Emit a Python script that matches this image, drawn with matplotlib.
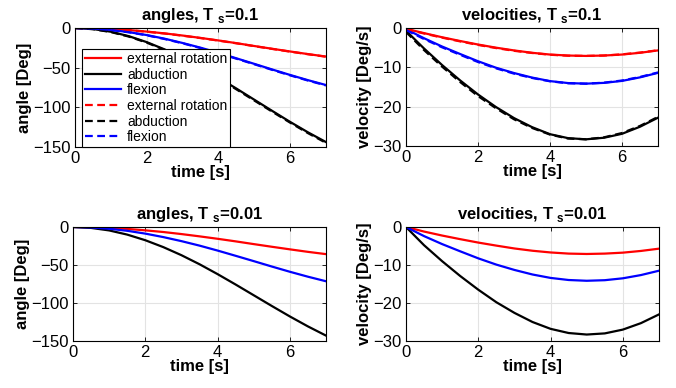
import numpy as np
import matplotlib
matplotlib.use('Agg')
import matplotlib.pyplot as plt

plt.rcParams['font.family'] = ['Liberation Sans', 'DejaVu Sans']
plt.rcParams['mathtext.fontset'] = 'custom'
plt.rcParams['mathtext.bf'] = 'Liberation Sans:bold'
plt.rcParams['mathtext.rm'] = 'Liberation Sans'

# time samples [s]
t = [0, 0.5, 1, 1.5, 2, 2.5, 3, 3.5, 4, 4.5, 5, 5.5, 6, 6.5, 7]

# Ts = 0.01 (smooth) curves
ang_ext = [0, -0.3, -1.1, -2.5, -4.4, -6.6, -9.3, -12.3, -15.5, -18.9, -22.5, -26.0, -29.4, -32.7, -35.7]
ang_abd = [0, -1.2, -4.5, -10.0, -17.4, -26.5, -37.1, -49.0, -62.0, -75.7, -89.8, -103.9, -117.7, -130.8, -142.9]
ang_flx = [0, -0.6, -2.3, -5.0, -8.7, -13.3, -18.6, -24.5, -31.0, -37.9, -44.9, -52.0, -58.9, -65.4, -71.4]
vel_ext = [0, -1.2, -2.25, -3.2, -4.1, -4.9, -5.65, -6.25, -6.7, -7.0, -7.1, -7.0, -6.75, -6.3, -5.7]
vel_abd = [0, -4.8, -9.0, -12.9, -16.5, -19.8, -22.6, -25.0, -26.8, -27.9, -28.3, -28.0, -27.0, -25.3, -23.0]
vel_flx = [0, -2.4, -4.5, -6.4, -8.25, -9.9, -11.3, -12.5, -13.4, -13.95, -14.15, -14.0, -13.5, -12.65, -11.5]

# Ts = 0.1 curves (solid = estimate, dashed = reference)
ang01_ext = [0, -0.3, -1.2, -2.6, -4.5, -6.8, -9.5, -12.5, -15.7, -19.1, -22.7, -26.2, -29.6, -32.9, -36.0]
ang01_abd = [0, -1.3, -4.7, -10.3, -17.8, -27.0, -37.7, -49.6, -62.6, -76.3, -90.4, -104.5, -118.4, -131.6, -143.8]
ang01_flx = [0, -0.6, -2.4, -5.2, -8.9, -13.5, -18.9, -24.8, -31.3, -38.2, -45.2, -52.3, -59.2, -65.8, -71.9]
ang01r_ext = [0, -0.4, -1.3, -2.7, -4.7, -7.0, -9.7, -12.7, -15.9, -19.3, -22.9, -26.4, -29.8, -33.1, -36.2]
ang01r_abd = [0, -1.5, -5.1, -10.8, -18.4, -27.7, -38.5, -50.5, -63.5, -77.3, -91.4, -105.5, -119.3, -132.6, -144.8]
ang01r_flx = [0, -0.7, -2.5, -5.4, -9.2, -13.9, -19.3, -25.3, -31.8, -38.7, -45.7, -52.8, -59.7, -66.3, -72.4]
vel01_ext = [-0.2, -1.3, -2.35, -3.3, -4.2, -5.0, -5.7, -6.3, -6.75, -7.0, -7.1, -7.0, -6.75, -6.3, -5.7]
vel01_abd = [-0.7, -5.2, -9.4, -13.3, -16.9, -20.1, -22.9, -25.2, -27.0, -28.0, -28.3, -27.9, -26.9, -25.1, -22.8]
vel01_flx = [-0.3, -2.6, -4.7, -6.6, -8.45, -10.1, -11.45, -12.6, -13.5, -14.0, -14.15, -13.95, -13.45, -12.55, -11.4]
vel01r_ext = [-0.3, -1.4, -2.45, -3.4, -4.3, -5.1, -5.8, -6.35, -6.8, -7.05, -7.1, -7.0, -6.7, -6.25, -5.65]
vel01r_abd = [-1.0, -5.6, -9.8, -13.7, -17.3, -20.4, -23.2, -25.4, -27.1, -28.1, -28.3, -27.8, -26.7, -24.9, -22.6]
vel01r_flx = [-0.5, -2.8, -4.9, -6.8, -8.65, -10.25, -11.6, -12.7, -13.55, -14.05, -14.15, -13.9, -13.35, -12.45, -11.3]

W, H = 676, 388


def box(l, r, top, bot):
    return [l / W, (H - bot) / H, (r - l) / W, (bot - top) / H]


fig = plt.figure(figsize=(W / 100, H / 100), dpi=100)
ax1 = fig.add_axes(box(75, 326, 28, 147))
ax2 = fig.add_axes(box(406, 658, 28, 146))
ax3 = fig.add_axes(box(73, 326, 227, 341))
ax4 = fig.add_axes(box(406, 659, 227, 341))

lw = 1.6
labels = ['external rotation', 'abduction', 'flexion']
cols = ['#ff0000', 'black', '#0000ff']

for ys, c, lab in zip([ang01_ext, ang01_abd, ang01_flx], cols, labels):
    ax1.plot(t, ys, color=c, lw=lw, label=lab)
for ys, c, lab in zip([ang01r_ext, ang01r_abd, ang01r_flx], cols, labels):
    ax1.plot(t, ys, color=c, lw=lw, ls=(0, (3.5, 2)), label=lab)
for ys, c in zip([vel01_ext, vel01_abd, vel01_flx], cols):
    ax2.plot(t, ys, color=c, lw=lw)
for ys, c in zip([vel01r_ext, vel01r_abd, vel01r_flx], cols):
    ax2.plot(t, ys, color=c, lw=lw, ls=(0, (3.5, 2)))
for ys, c in zip([ang_ext, ang_abd, ang_flx], cols):
    ax3.plot(t, ys, color=c, lw=lw)
for ys, c in zip([vel_ext, vel_abd, vel_flx], cols):
    ax4.plot(t, ys, color=c, lw=lw)

tfs = 12     # tick labels
lfs = 12     # axis labels
hfs = 12     # titles
for ax in [ax1, ax3]:
    ax.set_ylim(-150, 0)
    ax.set_yticks([-150, -100, -50, 0])
    ax.set_ylabel('angle [Deg]', fontsize=lfs, fontweight='bold', labelpad=1)
for ax in [ax2, ax4]:
    ax.set_ylim(-30, 0)
    ax.set_yticks([-30, -20, -10, 0])
    ax.set_ylabel('velocity [Deg/s]', fontsize=lfs, fontweight='bold', labelpad=1)

ax1.set_title(r'angles, T $_\mathbf{s}$=0.1', fontsize=hfs, fontweight='bold', pad=6)
ax2.set_title(r'velocities, T $_\mathbf{s}$=0.1', fontsize=hfs, fontweight='bold', pad=6)
ax3.set_title(r'angles, T $_\mathbf{s}$=0.01', fontsize=hfs, fontweight='bold', pad=6)
ax4.set_title(r'velocities, T $_\mathbf{s}$=0.01', fontsize=hfs, fontweight='bold', pad=6)

for ax in [ax1, ax2, ax3, ax4]:
    ax.set_xlim(0, 7)
    ax.set_xticks([0, 2, 4, 6])
    ax.set_xlabel('time [s]', fontsize=lfs, fontweight='bold', labelpad=-1)
    ax.grid(True, color='#e3e3e3', lw=0.8)
    ax.set_axisbelow(True)
    ax.tick_params(direction='in', length=3, width=0.6, labelsize=tfs, pad=3,
                   top=True, right=True)
    for s in ax.spines.values():
        s.set_linewidth(0.8)

leg = ax1.legend(loc='lower left', bbox_to_anchor=(0.028, 0.0), fontsize=10,
                 handlelength=2.6, labelspacing=0.12, borderpad=0.2,
                 handletextpad=0.45, borderaxespad=0, fancybox=False,
                 edgecolor='black', framealpha=1)
leg.get_frame().set_linewidth(0.8)

fig.savefig('out.png', dpi=100)
